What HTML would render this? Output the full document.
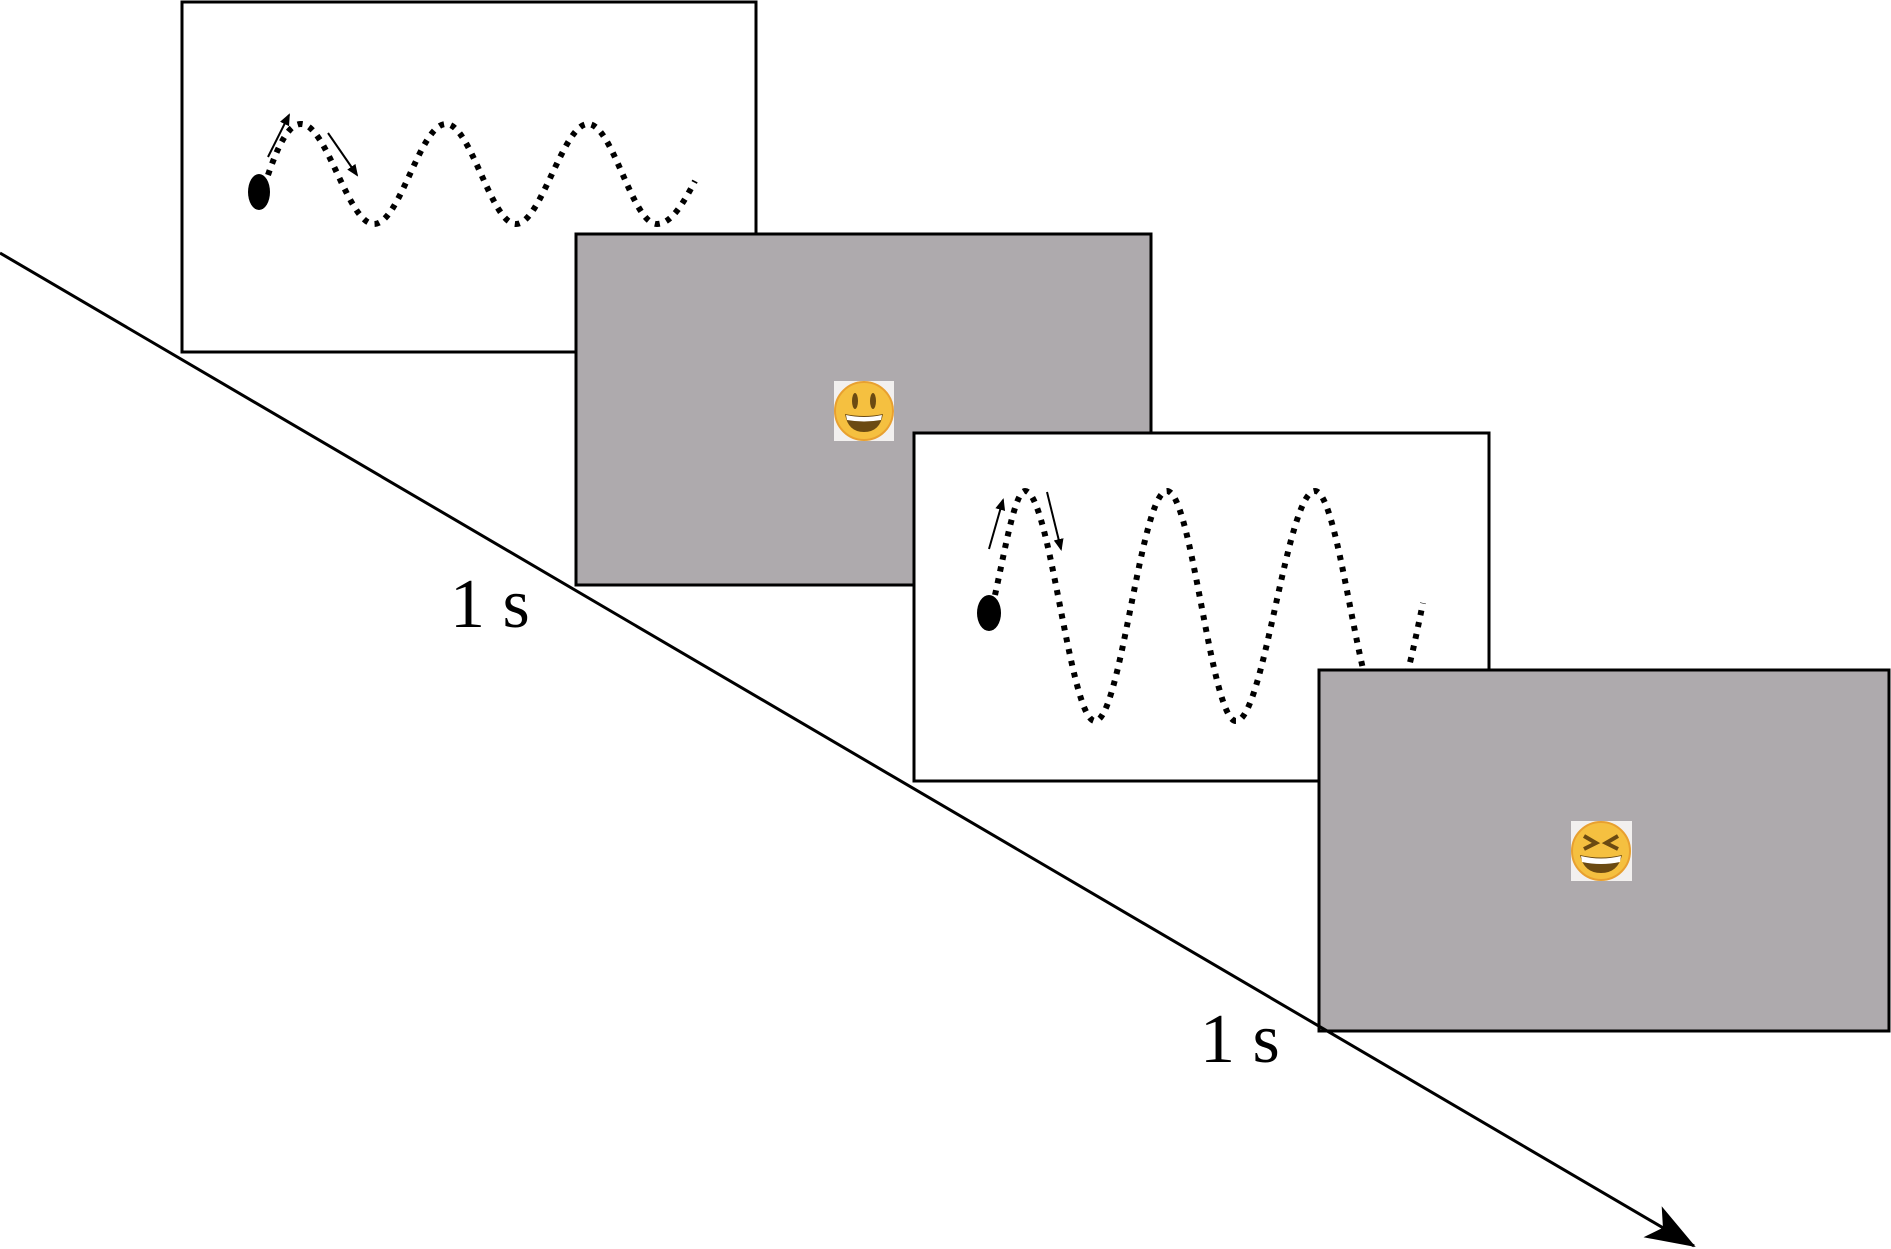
<!DOCTYPE html>
<html><head><meta charset="utf-8"><style>
html,body{margin:0;padding:0;background:#fff;}
svg{display:block;}
.t{font-family:"Liberation Serif","Times New Roman",serif;font-size:70px;}
</style></head><body>
<svg width="1891" height="1249" viewBox="0 0 1891 1249" xmlns="http://www.w3.org/2000/svg">
<defs>
<marker id="ah" markerWidth="12" markerHeight="10" refX="10" refY="5" orient="auto" markerUnits="userSpaceOnUse">
<path d="M0,0 L12,5 L0,10 Z" fill="#000"/></marker>
<marker id="big" markerWidth="50" markerHeight="36" refX="48" refY="18" orient="auto" markerUnits="userSpaceOnUse">
<path d="M0,0 L50,18 L0,36 L12,18 Z" fill="#000"/></marker>
</defs>
<rect x="182" y="2" width="574" height="350" fill="#fff" stroke="#000" stroke-width="3"/>
<ellipse cx="259" cy="192" rx="11" ry="18" fill="#000"/>
<path d="M268,175 C280,140 290,124 301,124 C327,124 348,224 374,224 C400,224 420,124 446,124 C471,124 491,224 516,224 C541,224 563,124 588,124 C613,124 632,224 657,224 C672,224 685,200 695,181" fill="none" stroke="#000" stroke-width="6" stroke-dasharray="5 7"/>
<line x1="268" y1="157" x2="289" y2="115" stroke="#000" stroke-width="2" marker-end="url(#ah)"/>
<line x1="328" y1="133" x2="357" y2="175" stroke="#000" stroke-width="2" marker-end="url(#ah)"/>
<rect x="576" y="234" width="575" height="351" fill="#aeaaad" stroke="#000" stroke-width="3"/>
<rect x="834" y="381" width="60" height="60" fill="#f2f0ef"/>
<circle cx="864" cy="411" r="29" fill="#f5c040" stroke="#e8a030" stroke-width="2"/>
<ellipse cx="855" cy="401" rx="3" ry="8" fill="#6b4a12"/>
<ellipse cx="873" cy="401" rx="3" ry="8" fill="#6b4a12"/>
<path d="M845,414 Q864,418 883,414 Q880,432 864,432 Q848,432 845,414 Z" fill="#6b4a12"/>
<path d="M846,415 Q864,419 882,415 L881,420 Q864,423 847,420 Z" fill="#fff"/>
<rect x="914" y="433" width="575" height="348" fill="#fff" stroke="#000" stroke-width="3"/>
<ellipse cx="989" cy="613" rx="12" ry="18" fill="#000"/>
<path d="M995,595 C1005,550 1015,491 1025,491 C1050,491 1070,721 1095,721 C1121,721 1141,491 1167,491 C1192,491 1211,721 1236,721 C1264,721 1287,491 1315,491 C1340,491 1360,721 1385,721 C1400,721 1415,640 1423,603" fill="none" stroke="#000" stroke-width="6" stroke-dasharray="5 7"/>
<line x1="989" y1="549" x2="1003" y2="500" stroke="#000" stroke-width="2" marker-end="url(#ah)"/>
<line x1="1047" y1="492" x2="1061" y2="549" stroke="#000" stroke-width="2" marker-end="url(#ah)"/>
<rect x="1319" y="670" width="570" height="361" fill="#aeaaad" stroke="#000" stroke-width="3"/>
<rect x="1571" y="821" width="61" height="60" fill="#f2f0ef"/>
<circle cx="1601" cy="851" r="29" fill="#f5c040" stroke="#e8a030" stroke-width="2"/>
<path d="M1584,836 L1596,843 L1584,849" fill="none" stroke="#6b4a12" stroke-width="4"/>
<path d="M1618,836 L1606,843 L1618,849" fill="none" stroke="#6b4a12" stroke-width="4"/>
<path d="M1580,855 Q1601,860 1622,855 Q1618,873 1601,873 Q1584,873 1580,855 Z" fill="#6b4a12"/>
<path d="M1581,856 Q1601,861 1621,856 L1620,862 Q1601,866 1582,862 Z" fill="#fff"/>
<line x1="0" y1="253" x2="1694" y2="1246" stroke="#000" stroke-width="3" marker-end="url(#big)"/>
<text x="450" y="627" class="t">1 s</text>
<text x="1200" y="1062" class="t">1 s</text>
</svg>
</body></html>
